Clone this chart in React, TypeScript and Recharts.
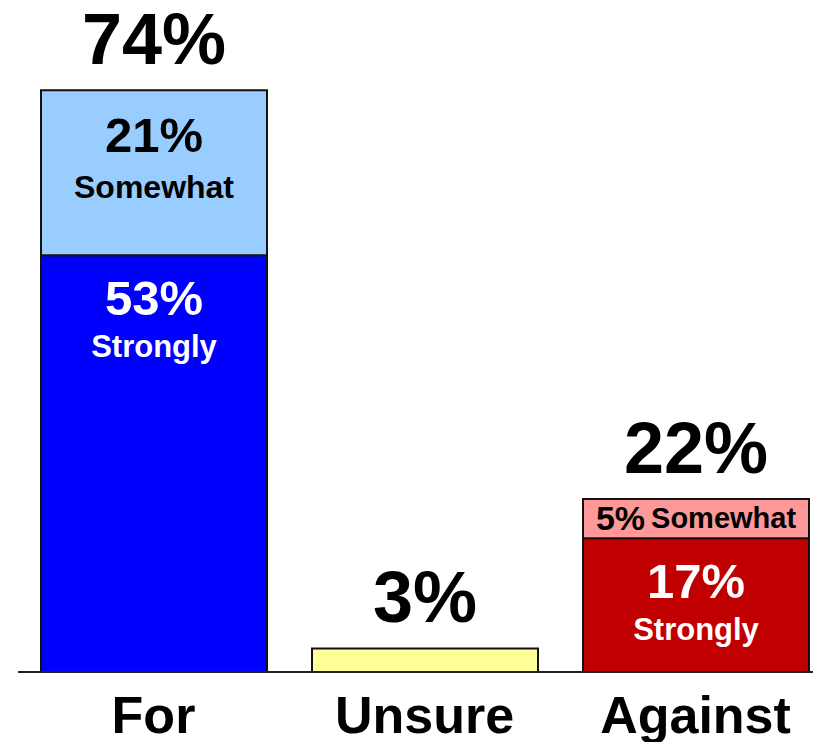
import React from 'react';
import { BarChart, Bar, XAxis, YAxis, Cell, LabelList } from 'recharts';

const categories = ['For', 'Unsure', 'Against'];
const strongly = [53, 3, 17];
const somewhat = [21, 0, 5];
const totals = [74, 3, 22];
const strongColors = ['#0000FF', '#FFFF99', '#C00000'];
const somewhatColors = ['#99CCFF', '#FFFF99', '#FF9999'];

const data = categories.map((name, i) => ({
  name,
  strongly: strongly[i],
  somewhat: somewhat[i],
  total: totals[i],
}));

const FONT = '"Liberation Sans", Arial, sans-serif';

const StrongLabel = (props: any) => {
  const { x, y, width, height, value } = props;
  if (!value || height < 60) return null;
  const cx = x + width / 2;
  return (
    <g>
      <text x={cx} y={y + 60} textAnchor="middle" fill="#FFFFFF" fontFamily={FONT} fontWeight="bold" fontSize={49}>
        {value}%
      </text>
      <text x={cx} y={y + 102} textAnchor="middle" fill="#FFFFFF" fontFamily={FONT} fontWeight="bold" fontSize={31}>
        Strongly
      </text>
    </g>
  );
};

const SomewhatLabel = (props: any) => {
  const { x, y, width, height, value } = props;
  if (!value) return null;
  const cx = x + width / 2;
  if (height < 60) {
    return (
      <text x={cx} y={y + 31} textAnchor="middle" fill="#000000" fontFamily={FONT} fontWeight="bold">
        <tspan fontSize={34}>{value}%</tspan>
        <tspan fontSize={29} dx={6} dy={-2}>Somewhat</tspan>
      </text>
    );
  }
  return (
    <g>
      <text x={cx} y={y + 62} textAnchor="middle" fill="#000000" fontFamily={FONT} fontWeight="bold" fontSize={49}>
        {value}%
      </text>
      <text x={cx} y={y + 108} textAnchor="middle" fill="#000000" fontFamily={FONT} fontWeight="bold" fontSize={32}>
        Somewhat
      </text>
    </g>
  );
};

const TotalLabel = (props: any) => {
  const { x, y, width, value } = props;
  const cx = x + width / 2;
  return (
    <text x={cx} y={y - 26} textAnchor="middle" fill="#000000" fontFamily={FONT} fontWeight="bold" fontSize={72}>
      {value}%
    </text>
  );
};

const AxisTick = (props: any) => {
  const { x, y, payload } = props;
  return (
    <text x={x} y={y + 61} textAnchor="middle" fill="#000000" fontFamily={FONT} fontWeight="bold" fontSize={52}>
      {payload.value}
    </text>
  );
};

export default function App() {
  return (
    <div style={{ position: 'absolute', left: 0, top: 0, width: 813, height: 742, overflow: 'hidden', background: '#FFFFFF' }}>
      <BarChart width={831} height={742} data={data} margin={{ top: 43, right: 0, left: 18, bottom: 0 }}>
        <YAxis hide domain={[0, 80]} />
        <XAxis
          dataKey="name"
          height={70}
          tickLine={false}
          tickSize={0}
          tickMargin={0}
          axisLine={{ stroke: '#222222', strokeWidth: 2 }}
          tick={<AxisTick />}
          interval={0}
        />
        <XAxis xAxisId="totals" dataKey="name" hide height={0} />
        <Bar dataKey="total" xAxisId="totals" barSize={226} fill="transparent" stroke="none" isAnimationActive={false}>
          <LabelList dataKey="total" content={<TotalLabel />} />
        </Bar>
        <Bar dataKey="strongly" stackId="a" barSize={226} stroke="#111111" strokeWidth={2} isAnimationActive={false}>
          {data.map((d, i) => (
            <Cell key={d.name} fill={strongColors[i]} />
          ))}
          <LabelList dataKey="strongly" content={<StrongLabel />} />
        </Bar>
        <Bar dataKey="somewhat" stackId="a" barSize={226} stroke="#111111" strokeWidth={2} isAnimationActive={false}>
          {data.map((d, i) => (
            <Cell key={d.name} fill={somewhatColors[i]} />
          ))}
          <LabelList dataKey="somewhat" content={<SomewhatLabel />} />
        </Bar>
      </BarChart>
    </div>
  );
}
